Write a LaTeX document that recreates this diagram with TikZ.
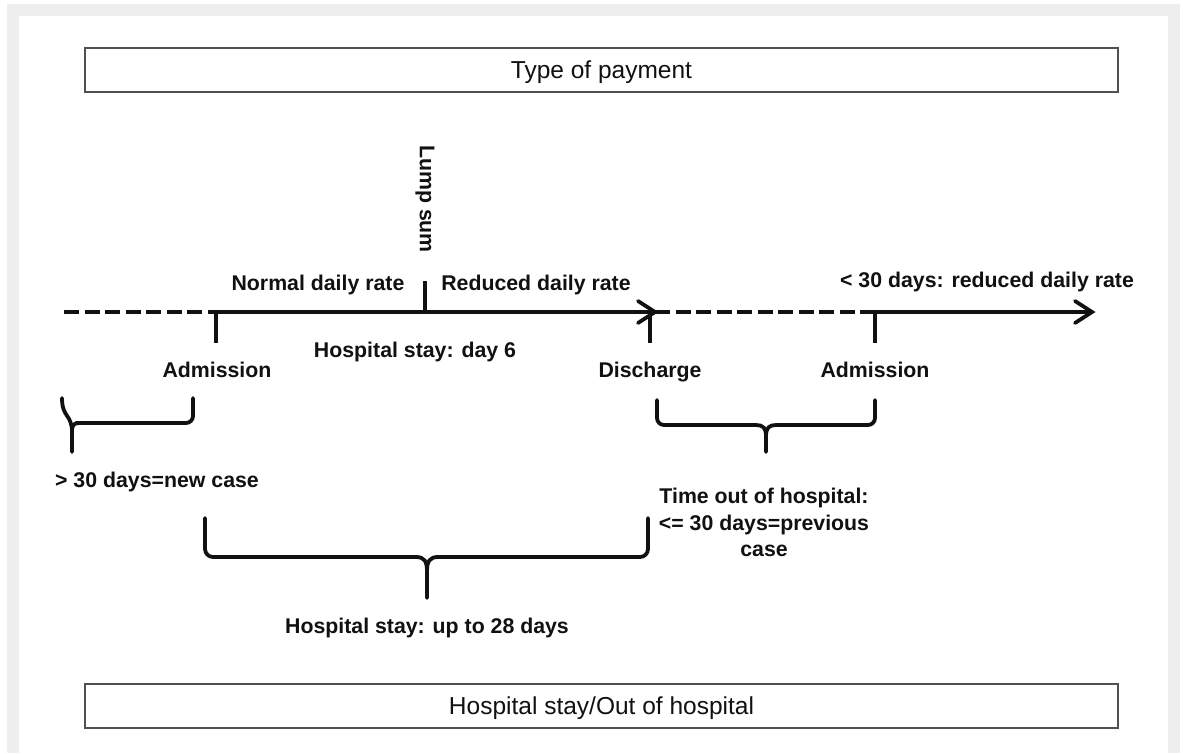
\documentclass[tikz,border=0pt]{standalone}
\usepackage{fontspec}
\setmainfont{Liberation Sans}
\definecolor{framegray}{HTML}{EEEEEE}
\definecolor{boxline}{HTML}{505050}
\definecolor{ink}{HTML}{111111}
\begin{document}
\begin{tikzpicture}[x=1pt,y=-1pt,
  boxlbl/.style={font=\fontsize{24.5}{29}\selectfont, text=ink, inner sep=0pt, anchor=base},
  lbl/.style={font=\fontsize{21.3}{26.5}\selectfont\bfseries, text=ink, inner sep=0pt, anchor=base},
  axis/.style={line width=3.8pt, draw=ink},
  dashaxis/.style={line width=3.8pt, draw=ink, dash pattern=on 15pt off 5.5pt},
  tick/.style={line width=3.8pt, draw=ink},
  chevron/.style={line width=3.8pt, draw=ink, line cap=round, line join=miter},
  brace/.style={line width=3.8pt, draw=ink, line cap=round},
  frame/.style={draw=boxline, line width=1.8pt}]
\useasboundingbox (0,0) rectangle (1183,753);
\fill[white] (0,0) rectangle (1183,753);
\fill[framegray] (7,4) rectangle (1180,753);
\fill[white] (19,16) rectangle (1168,753);

% boxes
\draw[frame] (85,48) rectangle (1118,92);
\node[boxlbl] (top) at (601.5,78) {Type of payment};
\draw[frame] (85,684) rectangle (1118,728);
\node[boxlbl] (bottom) at (601.5,714) {Hospital stay/Out of hospital};

% timeline points
\coordinate (d0) at (64,312);
\coordinate (a1) at (216,312);
\coordinate (ls) at (425,312);
\coordinate (ds) at (655,312);
\coordinate (dt) at (650,312);
\coordinate (a2) at (875,312);
\coordinate (e2) at (1092,312);
\coordinate (a1b) at (216,343);
\coordinate (lst) at (425,281);
\coordinate (dtb) at (650,343);
\coordinate (a2b) at (875,343);

\draw[dashaxis] (d0) -- (a1);
\draw[axis] (a1) -- ([xshift=-2pt]ds);
\draw[chevron] ([xshift=-17pt,yshift=11pt]ds) -- (ds) -- ([xshift=-17pt,yshift=-11pt]ds);
\draw[dashaxis] (ds) -- (a2);
\draw[axis] (a2) -- ([xshift=-2pt]e2);
\draw[chevron] ([xshift=-17pt,yshift=11pt]e2) -- (e2) -- ([xshift=-17pt,yshift=-11pt]e2);
\draw[tick] (a1) -- (a1b);
\draw[tick] (ls) -- (lst);
\draw[tick] (dt) -- (dtb);
\draw[tick] (a2) -- (a2b);

% labels on timeline
\node[lbl] (ndr) at (318,290) {Normal daily rate};
\node[lbl] (rdr) at (536,290) {Reduced daily rate};
\node[lbl] (r30) at (987,287) {< 30 days: reduced daily rate};
\node[lbl, anchor=center, rotate=-90] (lump) at (425,199) {Lump sum};
\node[lbl] (hs6) at (415,357) {Hospital stay: day 6};
\node[lbl] (adm1) at (217,377) {Admission};
\node[lbl] (dis) at (650,377) {Discharge};
\node[lbl] (adm2) at (875,377) {Admission};

% left brace (> 30 days)
\draw[brace] (62,398) .. controls (62,418) and (72,414) .. (72,432) -- (72,452);
\draw[brace, rounded corners=7pt] (76,423) -- (193,423) -- (193,398);
\draw[brace] (72,432) .. controls (72,424) and (74,423) .. (80,423);
\node[lbl] (new) at (157,487) {> 30 days=new case};

% right brace (time out of hospital)
\draw[brace, rounded corners=7pt] (657,400) -- (657,425) -- (756,425);
\draw[brace, rounded corners=7pt] (875,400) -- (875,425) -- (776,425);
\draw[brace] (756,425) .. controls (763,425) and (766,428) .. (766,436) -- (766,452);
\draw[brace] (776,425) .. controls (769,425) and (766,428) .. (766,436);
\node[lbl, align=center, anchor=north] (tout) at (764,488)
  {Time out of hospital:\\<= 30 days=previous\\case};

% middle brace (hospital stay)
\draw[brace, rounded corners=8pt] (205,518) -- (205,557) -- (416,557);
\draw[brace, rounded corners=8pt] (648,518) -- (648,557) -- (438,557);
\draw[brace] (416,557) .. controls (424,557) and (427,561) .. (427,571) -- (427,598);
\draw[brace] (438,557) .. controls (430,557) and (427,561) .. (427,571);
\node[lbl] (hs28) at (427,633) {Hospital stay: up to 28 days};
\end{tikzpicture}
\end{document}
